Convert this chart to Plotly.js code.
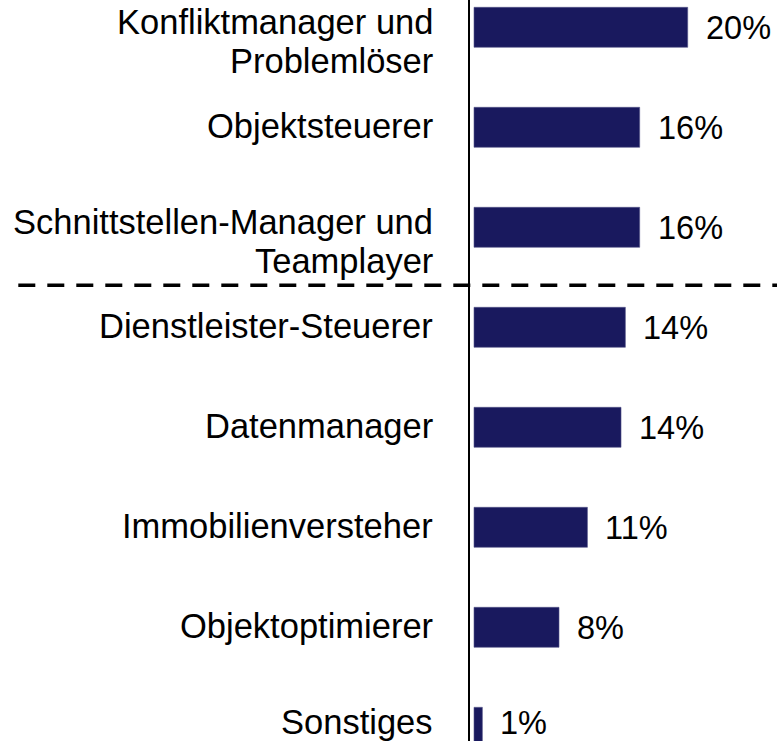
<!DOCTYPE html>
<html>
<head>
<meta charset="utf-8">
<script src="https://cdn.plot.ly/plotly-3.0.1.min.js"></script>
<style>html,body{margin:0;padding:0;background:#fff;}#chart{width:777px;height:741px;}</style>
</head>
<body>
<div id="chart"></div>
<script>
const categories = [
  'Konfliktmanager und<br>Problemlöser',
  'Objektsteuerer',
  'Schnittstellen-Manager und<br>Teamplayer',
  'Dienstleister-Steuerer',
  'Datenmanager',
  'Immobilienversteher',
  'Objektoptimierer',
  'Sonstiges'
];
const values = [20.16, 15.63, 15.63, 14.28, 13.87, 10.7, 8.02, 0.79];
const valueLabels = ['20%', '16%', '16%', '14%', '14%', '11%', '8%', '1%'];

const FONT = '"Liberation Sans", Arial, sans-serif';
const W = 777, H = 741, L = 470;
const pxPerUnit = 10.6;
const x0 = -4 / pxPerUnit;
const xRange = [x0, x0 + (W - L) / pxPerUnit];
const yTop = -0.273, yBottom = (H - 27.3) / 100;
const CAT_SIZE = 34.5, VAL_SIZE = 32.5;

function centerPx(i) { return (i - yTop) / (yBottom - yTop) * H; }
// downward offset in px, kept so that text stays inside the picture
function shiftFor(i, size, off) {
  const c = centerPx(i) + off;
  const lim = H - 0.55 * size;
  return -(Math.min(c, lim) - centerPx(i));
}

const annotations = [];
categories.forEach((cat, i) => {
  const lines = cat.split('<br>');
  const n = lines.length;
  lines.forEach((ln, j) => {
    const off = (j - (n - 1) / 2) * 38.5 + (n > 1 ? 14 : -1);
    annotations.push({
      xref: 'paper', yref: 'y', x: 0, y: i,
      xanchor: 'right', yanchor: 'middle',
      xshift: -35, yshift: shiftFor(i, CAT_SIZE, off),
      text: ln, showarrow: false,
      font: {family: FONT, size: CAT_SIZE, color: '#000'}
    });
  });
  annotations.push({
    xref: 'x', yref: 'y', x: values[i], y: i,
    xanchor: 'left', yanchor: 'middle',
    xshift: 16, yshift: shiftFor(i, VAL_SIZE, 1),
    text: valueLabels[i], showarrow: false,
    font: {family: FONT, size: VAL_SIZE, color: '#000'}
  });
});

const trace = {
  type: 'bar', orientation: 'h',
  y: categories.map((c, i) => i), x: values,
  width: 0.4,
  marker: {color: '#19195e', line: {color: '#55558a', width: 0.6}},
  hoverinfo: 'none'
};

const layout = {
  width: W, height: H,
  margin: {l: L, r: 0, t: 0, b: 0, pad: 0},
  paper_bgcolor: '#fff', plot_bgcolor: '#fff',
  showlegend: false,
  xaxis: {range: xRange, showgrid: false, zeroline: false, showticklabels: false, ticks: '', showline: false, fixedrange: true},
  yaxis: {range: [yBottom, yTop], showgrid: false, zeroline: false, showticklabels: false, ticks: '',
          showline: true, linecolor: '#000', linewidth: 2, fixedrange: true},
  shapes: [{
    type: 'line', xref: 'paper', yref: 'y',
    x0: (18.3 - L) / (W - L), x1: 1, y0: 2.58, y1: 2.58,
    line: {color: '#000', width: 3.5, dash: '17px,12px'}
  }],
  annotations: annotations
};

Plotly.newPlot('chart', [trace], layout, {staticPlot: true, displayModeBar: false});
</script>
</body>
</html>
